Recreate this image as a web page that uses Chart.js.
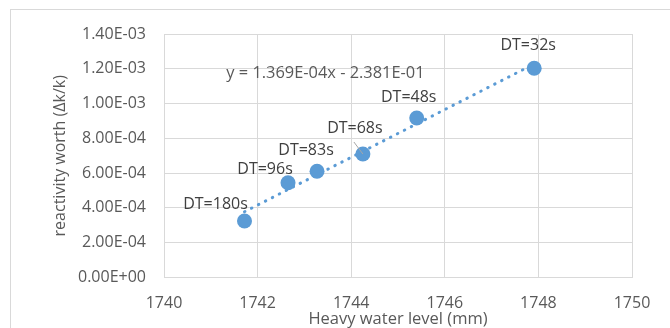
<!DOCTYPE html>
<html>
<head>
<meta charset="utf-8">
<script src="https://cdn.jsdelivr.net/npm/chart.js@4"></script>
<style>
  html, body { margin: 0; padding: 0; background: #fff; overflow: hidden; }
  #wrap { position: relative; width: 670px; height: 328px; overflow: hidden; }
  #frame { position: absolute; left: 10px; top: 9px; width: 700px; height: 400px;
           border: 1px solid #d9d9d9; box-sizing: border-box; }
  canvas { position: absolute; left: 0; top: 0; }
</style>
</head>
<body>
<div id="wrap">
  <div id="frame"></div>
  <canvas id="chart" width="670" height="328"></canvas>
</div>
<script>
// heavy water level (mm) and reactivity worth (dk/k)
const waterLevel = [1741.72, 1742.65, 1743.27, 1744.25, 1745.40, 1747.91];
const reactivity = [3.25e-4, 5.45e-4, 6.11e-4, 7.10e-4, 9.17e-4, 1.203e-3];
const doublingTimes = ["DT=180s", "DT=96s", "DT=83s", "DT=68s", "DT=48s", "DT=32s"];
const equationText = "y = 1.369E-04x - 2.381E-01";

const xTicks = { min: 1740, max: 1750, step: 2 };
const yTicks = { min: 0, max: 1.4e-3, step: 2e-4 };

// least squares fit for the dotted trendline
const n = waterLevel.length;
const mx = waterLevel.reduce((a, b) => a + b, 0) / n;
const my = reactivity.reduce((a, b) => a + b, 0) / n;
let sxy = 0, sxx = 0;
for (let i = 0; i < n; i++) {
  sxy += (waterLevel[i] - mx) * (reactivity[i] - my);
  sxx += (waterLevel[i] - mx) ** 2;
}
const slope = sxy / sxx;
const intercept = my - slope * mx;
const xLo = Math.min(...waterLevel);
const xHi = Math.max(...waterLevel);

const fmtSci = (v) => {
  if (Math.abs(v) < 1e-12) return "0.00E+00";
  const [m, e] = v.toExponential(2).split("e");
  const ex = parseInt(e, 10);
  return m + "E" + (ex < 0 ? "-" : "+") + String(Math.abs(ex)).padStart(2, "0");
};

// label offsets from each marker (px): [dx, dy] of text centre
const labelOffsets = [[-29, -17], [-23, -13], [-11, -21], [-8, -26], [-8, -21], [-6, -23]];

const labelPlugin = {
  id: "dtLabels",
  afterDatasetsDraw(chart) {
    const { ctx, scales } = chart;
    const meta = chart.getDatasetMeta(1);
    ctx.save();
    ctx.textAlign = "center";
    ctx.textBaseline = "middle";
    meta.data.forEach((pt, i) => {
      const [dx, dy] = labelOffsets[i];
      if (i === 3) {
        ctx.strokeStyle = "#a6a6a6";
        ctx.lineWidth = 1;
        ctx.beginPath();
        ctx.moveTo(pt.x - 9, pt.y - 12);
        ctx.lineTo(pt.x, pt.y);
        ctx.stroke();
      }
      ctx.font = "16px 'Open Sans'";
      ctx.fillStyle = "#404040";
      ctx.fillText(doublingTimes[i], pt.x + dx, pt.y + dy);
    });
    ctx.font = "16.4px 'Open Sans'";
    ctx.fillStyle = "#595959";
    ctx.fillText(equationText, scales.x.getPixelForValue(1743.45), scales.y.getPixelForValue(1.174e-3));
    ctx.restore();
  }
};

const tickFont = { family: "Open Sans", size: 16 };

new Chart(document.getElementById("chart"), {
  type: "scatter",
  data: {
    datasets: [
      {
        type: "line",
        data: [
          { x: xLo, y: slope * xLo + intercept },
          { x: xHi, y: slope * xHi + intercept },
        ],
        borderColor: "#5b9bd5",
        borderWidth: 3,
        borderDash: [0.5, 7.3],
        borderCapStyle: "round",
        pointRadius: 0,
        fill: false,
        order: 2,
      },
      {
        data: waterLevel.map((x, i) => ({ x, y: reactivity[i] })),
        backgroundColor: "#5b9bd5",
        borderWidth: 0,
        pointRadius: 7.5,
        order: 1,
      },
    ],
  },
  options: {
    responsive: false,
    animation: false,
    layout: { padding: { top: 34, right: 38, left: 0, bottom: 0 } },
    plugins: { legend: { display: false }, tooltip: { enabled: false } },
    scales: {
      x: {
        type: "linear",
        min: xTicks.min,
        max: xTicks.max,
        ticks: { stepSize: xTicks.step, color: "#595959", font: tickFont, padding: 16, callback: (v) => String(v) },
        grid: { color: "#d9d9d9", drawTicks: false },
        border: { color: "#d9d9d9" },
        title: { display: true, text: "Heavy water level (mm)", color: "#595959",
                 font: { family: "Open Sans", size: 16.5, lineHeight: 1 }, padding: { top: 0, bottom: 0 } },
        afterFit: (s) => { s.height = 50.5; },
      },
      y: {
        min: yTicks.min,
        max: yTicks.max,
        ticks: { stepSize: yTicks.step, color: "#595959", font: tickFont, padding: 18, callback: (v) => fmtSci(v) },
        grid: { color: "#d9d9d9", drawTicks: false },
        border: { color: "#d9d9d9" },
        title: { display: true, text: "reactivity worth (\u0394k/k)", color: "#595959",
                 font: { family: "Open Sans", size: 16, lineHeight: 1 }, padding: { top: 52, bottom: 0 } },
        afterFit: (s) => { s.width = 164; },
      },
    },
  },
  plugins: [labelPlugin],
});
</script>
</body>
</html>
